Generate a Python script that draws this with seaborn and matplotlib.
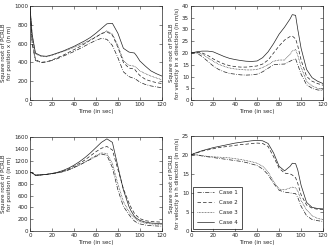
import numpy as np
import pandas as pd
import matplotlib
matplotlib.use("Agg")
import matplotlib.pyplot as plt
import seaborn as sns

# time grid (sec)
time = [0, 2, 5, 10, 15, 20, 25, 30, 35, 40, 45, 50, 55, 60, 65, 70, 75,
        80, 85, 90, 92, 95, 97, 100, 105, 110, 115, 120]
cases = ["Case 1", "Case 2", "Case 3", "Case 4"]

# position x (m)
pos_x = {
    "Case 1": [1000, 600, 420, 400, 405, 420, 440, 465, 490, 515, 545, 575, 605, 635, 655, 645, 580,
               450, 300, 250, 240, 230, 215, 190, 165, 150, 140, 130],
    "Case 2": [1000, 620, 430, 400, 405, 425, 450, 475, 505, 535, 565, 600, 635, 670, 705, 725, 690,
               560, 400, 340, 335, 330, 300, 260, 220, 200, 185, 175],
    "Case 3": [1000, 680, 490, 465, 460, 475, 495, 515, 535, 560, 585, 610, 640, 670, 705, 735, 700,
               580, 420, 370, 365, 360, 340, 310, 280, 255, 235, 215],
    "Case 4": [1000, 700, 500, 470, 465, 480, 500, 520, 545, 570, 600, 630, 665, 710, 760, 810, 815,
               710, 550, 510, 505, 500, 470, 415, 360, 310, 280, 255],
}
# velocity in x direction (m/s)
vel_x = {
    "Case 1": [20, 20, 20, 18.5, 16.5, 14.5, 13, 12, 11.3, 11, 10.7, 10.6, 10.7, 11, 12, 13.5, 15,
               15.2, 15.3, 16.5, 17, 17.5, 15, 11, 6.5, 5, 4.3, 4],
    "Case 2": [20, 20.1, 20.3, 20, 19, 17.5, 16.3, 15.3, 14.6, 14.2, 14, 14, 14.2, 14.5, 15.3, 17, 20,
               23, 25.5, 27, 27.2, 26, 23, 17, 10, 8, 7, 6.3],
    "Case 3": [20, 20.1, 20.2, 19.5, 18, 16.5, 15.2, 14.3, 13.6, 13.2, 13, 12.8, 12.8, 13, 13.8, 15, 16.5,
               17, 17, 19.5, 20.8, 21.5, 19, 14, 8, 6, 5, 4.5],
    "Case 4": [20, 20.2, 20.5, 20.8, 20.8, 20.5, 19.5, 18.5, 17.7, 17.2, 16.8, 16.5, 16.4, 16.6, 18, 20.5, 24,
               28, 31, 34.5, 36.3, 36, 30, 22, 13, 9.5, 8, 7],
}
# position h (m)
pos_h = {
    "Case 1": [1000, 990, 950, 955, 963, 975, 990, 1010, 1040, 1080, 1125, 1170, 1220, 1270, 1310, 1290, 1080,
               700, 420, 280, 230, 170, 145, 120, 100, 90, 85, 80],
    "Case 2": [1000, 990, 950, 955, 965, 978, 995, 1020, 1055, 1100, 1150, 1210, 1280, 1350, 1410, 1440, 1380,
               1050, 720, 480, 400, 300, 260, 210, 175, 160, 155, 150],
    "Case 3": [1000, 990, 950, 955, 963, 975, 990, 1010, 1040, 1080, 1125, 1175, 1230, 1285, 1330, 1320, 1150,
               800, 500, 330, 280, 220, 190, 160, 130, 120, 115, 110],
    "Case 4": [1000, 990, 950, 955, 965, 980, 1000, 1030, 1070, 1120, 1180, 1250, 1330, 1420, 1510, 1570, 1510,
               1100, 700, 420, 340, 250, 215, 180, 150, 135, 130, 130],
}
# velocity in h direction (m/s)
vel_h = {
    "Case 1": [20, 20, 20, 19.7, 19.5, 19.3, 19.1, 18.9, 18.7, 18.5, 18.3, 18, 17.6, 17.2, 16.3, 14.8, 12.5,
               10.7, 10.2, 10, 9.9, 9.8, 8.8, 6.5, 4, 3, 2.7, 2.5],
    "Case 2": [20, 20.2, 20.5, 21, 21.3, 21.6, 21.9, 22.1, 22.3, 22.5, 22.7, 22.8, 23, 23.1, 23, 22.2, 19.5,
               16.5, 15.2, 15, 14.7, 14, 12.5, 9.5, 6.8, 6, 5.7, 5.6],
    "Case 3": [20, 20, 20, 19.8, 19.6, 19.5, 19.4, 19.3, 19.2, 19, 18.8, 18.5, 18.2, 17.8, 17, 15.5, 13,
               11, 10.8, 11.3, 11.5, 11.3, 10.5, 8, 5.5, 4, 3.3, 3],
    "Case 4": [20, 20.3, 20.6, 21.1, 21.5, 21.9, 22.2, 22.5, 22.8, 23.1, 23.3, 23.5, 23.7, 23.8, 23.7, 23, 20.5,
               17, 15.8, 17, 17.8, 17.7, 16, 12, 7.5, 6.2, 5.9, 5.8],
}

sns.set_theme(style="ticks")
plt.rcParams.update({
    "font.family": ["DejaVu Sans"],
    "font.size": 4,
    "axes.linewidth": 0.5,
    "xtick.direction": "in",
    "ytick.direction": "in",
    "xtick.major.size": 2,
    "ytick.major.size": 2,
    "xtick.major.width": 0.4,
    "ytick.major.width": 0.4,
    "xtick.major.pad": 1.5,
    "ytick.major.pad": 1.5,
    "xtick.labelsize": 4,
    "ytick.labelsize": 4,
    "axes.labelsize": 4,
    "axes.labelpad": 1.5,
    "xtick.top": True,
    "ytick.right": True,
})

dashes = {"Case 1": (6, 2, 1, 2), "Case 2": (5, 3), "Case 3": (1, 1.2), "Case 4": ""}

panels = [
    (pos_x, "Square root of PCRLB\nfor position x (in m)", 1000, 200, [0.091, 0.595, 0.401, 0.381]),
    (vel_x, "Square root of PCRLB\nfor velocity in x direction (in m/s)", 40, 5, [0.581, 0.595, 0.401, 0.381]),
    (pos_h, "Square root of PCRLB\nfor position h (in m)", 1600, 200, [0.091, 0.065, 0.401, 0.380]),
    (vel_h, "Square root of PCRLB\nfor velocity in h direction (in m/s)", 25, 5, [0.581, 0.065, 0.401, 0.385]),
]

fig = plt.figure(figsize=(3.29, 2.47), dpi=100)
for i, (vals, ylabel, ymax, ystep, rect) in enumerate(panels):
    ax = fig.add_axes(rect)
    df = pd.DataFrame([(t, v, c) for c in cases for t, v in zip(time, vals[c])],
                      columns=["Time", "Value", "Case"])
    sns.lineplot(data=df, x="Time", y="Value", style="Case", dashes=dashes,
                 color="#222222", linewidth=0.5, ax=ax, legend=(i == 3))
    ax.set_xlim(0, 120)
    ax.set_ylim(0, ymax)
    ax.set_xticks(np.arange(0, 121, 20))
    ax.set_yticks(np.arange(0, ymax + 1, ystep))
    ax.set_xlabel("Time (in sec)")
    ax.set_ylabel(ylabel)
    if i == 3:
        leg = ax.legend(loc="lower left", fontsize=4, frameon=True, fancybox=False,
                        edgecolor="black", handlelength=3.2, borderpad=0.7, labelspacing=0.9,
                        borderaxespad=0.3)
        leg.get_frame().set_linewidth(0.6)

fig.savefig("out.png", dpi=100)
